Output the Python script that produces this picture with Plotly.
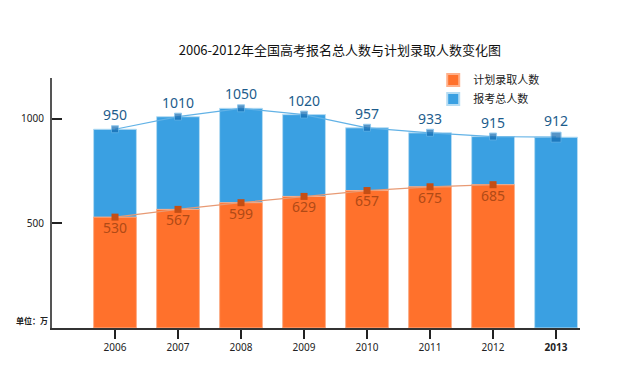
import plotly.graph_objects as go

years = ["2006", "2007", "2008", "2009", "2010", "2011", "2012", "2013"]
total = [950, 1010, 1050, 1020, 957, 933, 915, 912]
admit_years = ["2006", "2007", "2008", "2009", "2010", "2011", "2012"]
admit = [530, 567, 599, 629, 657, 675, 685]
tick_text = ["2006", "2007", "2008", "2009", "2010", "2011", "2012", "<b>2013</b>"]

BLUE = "#3aa0e2"
ORANGE = "#ff712c"
FONT = "Noto Sans CJK SC"

fig = go.Figure()
fig.add_trace(go.Bar(
    x=years, y=total, name="报考总人数", width=0.68,
    marker=dict(color=BLUE, line=dict(color="#b5dcf3", width=1)),
    legendrank=2, hoverinfo="skip",
))
fig.add_trace(go.Bar(
    x=admit_years, y=admit, name="计划录取人数", width=0.68,
    marker=dict(color=ORANGE, line=dict(color="#ffb08a", width=1)),
    legendrank=1, hoverinfo="skip",
))
fig.add_trace(go.Scatter(
    x=years, y=total, mode="lines+markers+text", showlegend=False,
    line=dict(color="#62b2e6", width=1.2),
    marker=dict(symbol="square", color="#1169b0",
                size=[7] * (len(years) - 1) + [10]),
    text=[str(v) for v in total], textposition="top center",
    textfont=dict(family="Noto Sans", size=14, color="#1d5c8c"),
    hoverinfo="skip",
))
fig.add_trace(go.Scatter(
    x=admit_years, y=admit, mode="lines+markers+text", showlegend=False,
    line=dict(color="#e89a74", width=1.2),
    marker=dict(symbol="square", color="#c44e14", size=7),
    text=[str(v) for v in admit], textposition="bottom center",
    textfont=dict(family="Noto Sans", size=14, color="#b04a16"),
    hoverinfo="skip",
))

fig.update_layout(
    width=627, height=381,
    margin=dict(l=52, r=47, t=78, b=53, autoexpand=False),
    paper_bgcolor="white", plot_bgcolor="white",
    barmode="overlay", bargap=0.32,
    font=dict(family=FONT, size=10, color="#222"),
    title=dict(text="2006-2012年全国高考报名总人数与计划录取人数变化图",
               x=0.542, xanchor="center", y=1 - 50 / 381, yanchor="middle",
               yref="container", font=dict(family=FONT, size=13, color="#111")),
    legend=dict(x=0.722, y=1.05, xanchor="left", yanchor="top",
                font=dict(family=FONT, size=11, color="#222"),
                bgcolor="rgba(0,0,0,0)", itemsizing="constant",
                tracegroupgap=0, itemwidth=30),
    xaxis=dict(
        type="category", categoryorder="array", categoryarray=years,
        tickvals=years, ticktext=tick_text,
        range=[-1, 7.38], showgrid=False, zeroline=False,
        showline=True, linecolor="#333", linewidth=2,
        ticks="outside", ticklen=9, tickwidth=2, tickcolor="#222",
        tickfont=dict(family="Noto Sans", size=10, color="#222"),
    ),
    yaxis=dict(
        range=[0, 1195], tickvals=[500, 1000], showgrid=False, zeroline=False,
        showline=True, linecolor="#555", linewidth=2,
        ticks="inside", ticklen=10, tickwidth=2, tickcolor="#222",
        tickfont=dict(family="Noto Sans", size=10, color="#222"),
        ticklabelstandoff=4,
    ),
    annotations=[dict(
        text="<b>单位：万</b>", xref="paper", yref="paper", x=-0.004, y=0.0,
        xanchor="right", yanchor="bottom", showarrow=False,
        font=dict(family=FONT, size=8, color="#222"),
    )],
)

fig.write_html(
    "out.html",
    config={"displayModeBar": False},
    post_script="document.body.style.margin='0';document.body.style.padding='0';",
)
